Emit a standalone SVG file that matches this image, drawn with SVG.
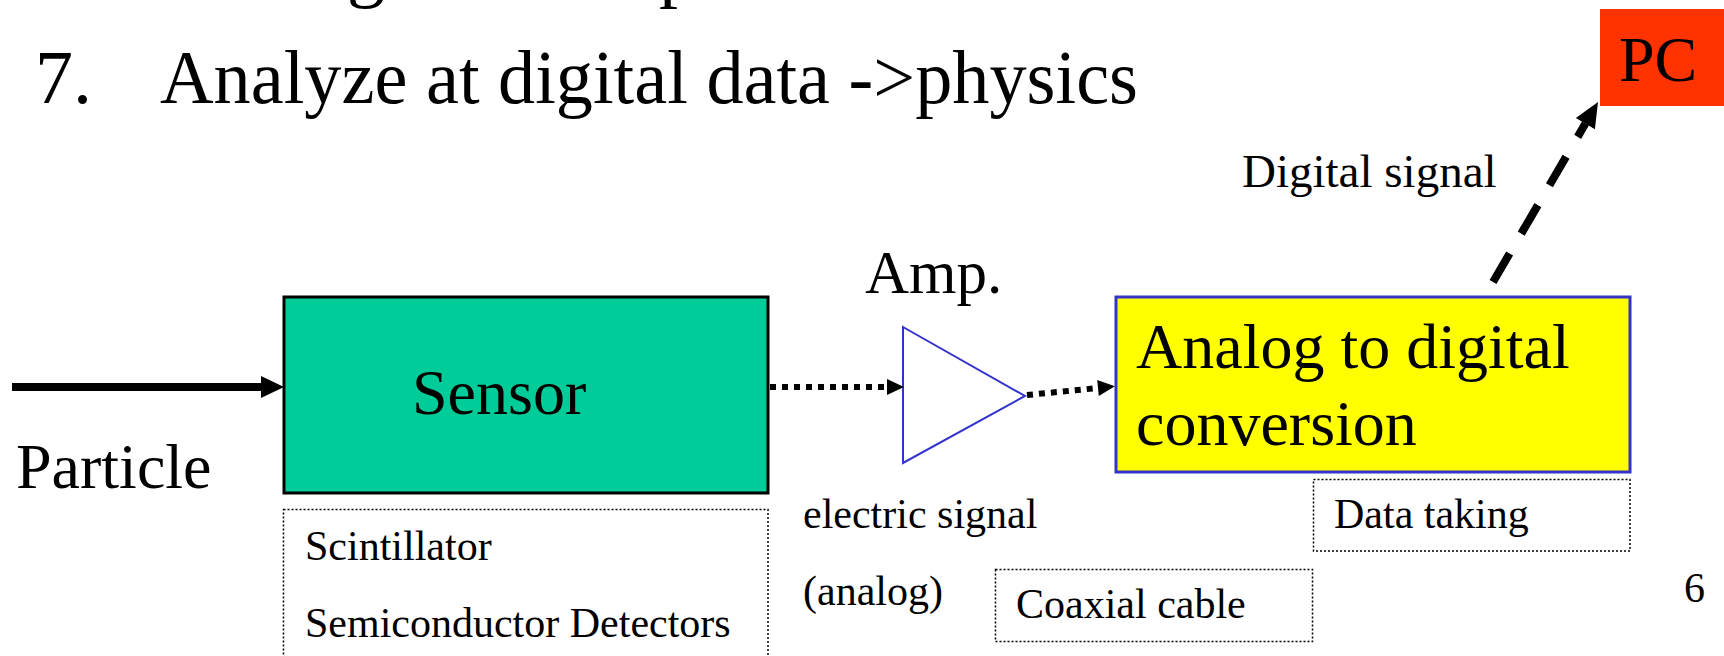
<svg xmlns="http://www.w3.org/2000/svg" width="1724" height="656" viewBox="0 0 1724 656">
<style>
  text { font-family: "Liberation Serif", "Times New Roman", serif; fill: #000; }
  .title { font-size: 76px; }
  .big { font-size: 64px; }
  .mid { font-size: 47px; }
  .small { font-size: 42px; }
  .dotbox { fill: none; stroke: #000; stroke-width: 1.5; stroke-dasharray: 2 2; }
</style>
<defs>
  <marker id="headBig" markerUnits="userSpaceOnUse" markerWidth="24" markerHeight="24" refX="0" refY="11" orient="auto" overflow="visible">
    <path d="M0,0 L23,11 L0,22 z" fill="#000"/>
  </marker>
  <marker id="headDot" markerUnits="userSpaceOnUse" markerWidth="18" markerHeight="18" refX="0" refY="8" orient="auto" overflow="visible">
    <path d="M0,0 L17,8 L0,16 z" fill="#000"/>
  </marker>
  <marker id="headDash" markerUnits="userSpaceOnUse" markerWidth="26" markerHeight="24" refX="0" refY="11" orient="auto" overflow="visible">
    <path d="M0,0 L25,11 L0,22 z" fill="#000"/>
  </marker>
</defs>
<rect width="1724" height="656" fill="#fff"/>

<g id="title">
  <text class="title" y="-7"><tspan x="347">g</tspan><tspan x="659">p</tspan></text>
  <text class="title" x="35" y="103">7.</text>
  <text class="title" x="160" y="103" textLength="978" lengthAdjust="spacingAndGlyphs">Analyze at digital data -&gt;physics</text>
</g>

<g id="pc">
  <rect x="1600" y="9" width="124" height="97" fill="#FF3300"/>
  <text x="1619" y="81" style="font-size:64px">PC</text>
</g>

<g id="particle">
  <text class="big" x="16" y="488">Particle</text>
</g>

<g id="sensor">
  <rect x="284" y="297" width="484" height="196" fill="#00CC99" stroke="#000" stroke-width="3"/>
  <text class="big" x="412" y="414">Sensor</text>
</g>

<g id="sensor-types">
  <rect class="dotbox" x="283.5" y="509.5" width="484.5" height="200"/>
  <text class="small" x="305" y="560">Scintillator</text>
  <text class="small" x="305" y="637">Semiconductor Detectors</text>
</g>

<g id="amp">
  <text style="font-size:61px" x="865" y="293">Amp.</text>
  <polygon points="903,327 1025,396 903,463" fill="#fff" stroke="#3333CC" stroke-width="2"/>
</g>

<g id="signal-label">
  <text class="small" x="803" y="528">electric signal</text>
  <text class="small" x="803" y="605">(analog)</text>
</g>

<g id="coax">
  <rect class="dotbox" x="995.5" y="569.5" width="317" height="72"/>
  <text class="small" x="1016" y="618">Coaxial cable</text>
</g>

<g id="adc">
  <rect x="1116" y="297" width="514" height="175" fill="#FFFF00" stroke="#3333CC" stroke-width="3"/>
  <text class="big" x="1136" y="368">Analog to digital</text>
  <text class="big" x="1136" y="445">conversion</text>
</g>

<g id="datataking">
  <rect class="dotbox" x="1313.5" y="479.5" width="316.5" height="71.5"/>
  <text class="small" x="1334" y="528">Data taking</text>
</g>

<g id="digital-label">
  <text class="mid" x="1242" y="187">Digital signal</text>
</g>

<g id="page-number">
  <text class="small" x="1684" y="602">6</text>
</g>

<g id="connectors">
  <line x1="12" y1="387" x2="261" y2="387" stroke="#000" stroke-width="8" marker-end="url(#headBig)"/>
  <line x1="770" y1="387" x2="887" y2="387" stroke="#000" stroke-width="6" stroke-dasharray="6 6" marker-end="url(#headDot)"/>
  <line x1="1027" y1="395" x2="1098" y2="388" stroke="#000" stroke-width="6" stroke-dasharray="6 6" marker-end="url(#headDot)"/>
  <line x1="1493" y1="282" x2="1585.4" y2="123.6" stroke="#000" stroke-width="8" stroke-dasharray="33 23" marker-end="url(#headDash)"/>
</g>
</svg>
